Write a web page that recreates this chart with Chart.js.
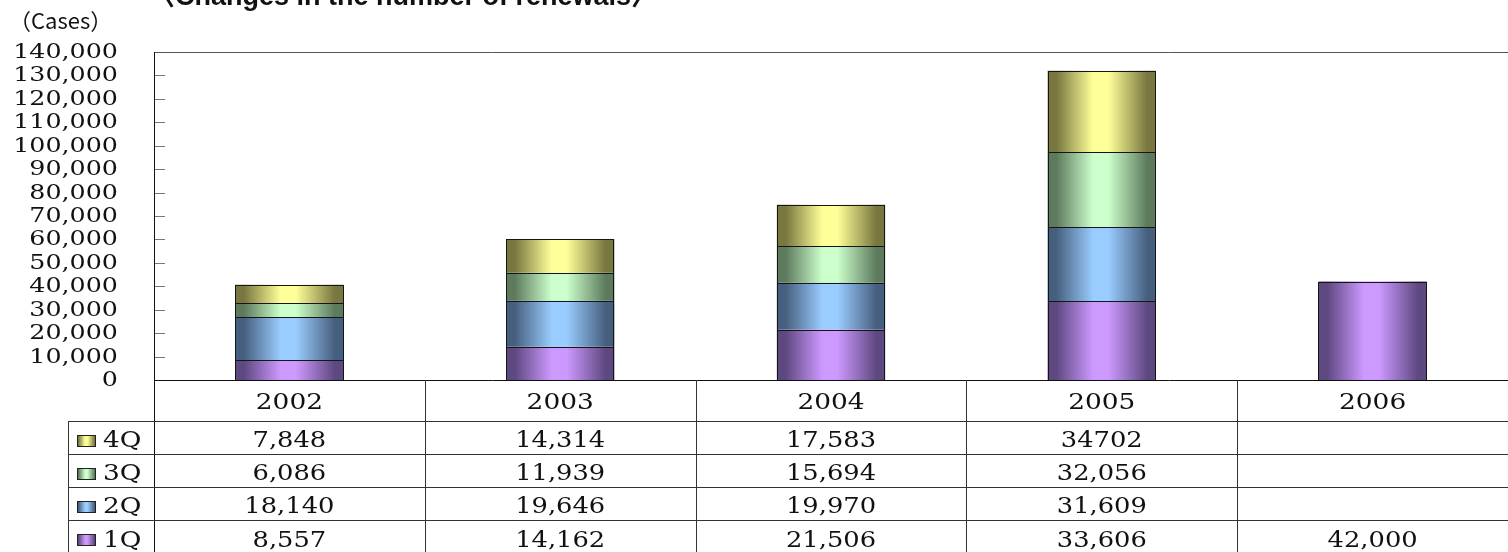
<!DOCTYPE html>
<html>
<head>
<meta charset="utf-8">
<script src="https://cdn.jsdelivr.net/npm/chart.js@4"></script>
<style>
  html, body { margin: 0; padding: 0; background: #fff; }
  #wrap { width: 1508px; height: 552px; position: relative; }
</style>
</head>
<body>
<div id="wrap"><canvas id="chart"></canvas></div>
<script>
const categories = ['2002', '2003', '2004', '2005', '2006'];
const q1 = [8557, 14162, 21506, 33606, 42000];
const q2 = [18140, 19646, 19970, 31609, null];
const q3 = [6086, 11939, 15694, 32056, null];
const q4 = [7848, 14314, 17583, 34702, null];
const seriesNames = ['1Q', '2Q', '3Q', '4Q'];
const yMax = 140000;
const yStep = 10000;

// the source table prints this one cell without a thousands separator
const plainCells = ['0-3'];

const shades = [
  { light: '#cc99ff', dark: '#5e4880' },
  { light: '#99ccff', dark: '#475f7e' },
  { light: '#ccffcc', dark: '#5d7a5d' },
  { light: '#ffff99', dark: '#77773f' }
];

const BAR_PCT = 0.4;
const SERIF = '"DejaVu Serif", "Liberation Serif", serif';

function cylinder(ctx, x0, x1, shade) {
  const g = ctx.createLinearGradient(x0, 0, x1, 0);
  g.addColorStop(0, shade.dark);
  g.addColorStop(0.08, shade.dark);
  g.addColorStop(0.42, shade.light);
  g.addColorStop(0.56, shade.light);
  g.addColorStop(0.92, shade.dark);
  g.addColorStop(1, shade.dark);
  return g;
}

function barFill(si) {
  return context => {
    const chart = context.chart;
    const xs = chart.scales.x;
    if (!xs || context.dataIndex === undefined) return shades[si].light;
    const cx = xs.getPixelForValue(context.dataIndex);
    const half = xs.width / categories.length * BAR_PCT / 2;
    if (!isFinite(cx) || !isFinite(half) || half <= 0) return shades[si].light;
    return cylinder(chart.ctx, cx - half, cx + half, shades[si]);
  };
}

const fmt = v => v == null ? '' : v.toLocaleString('en-US');

// crisp outlines around each bar segment, snapped to whole pixels
const outlinePlugin = {
  id: 'outlinePlugin',
  afterDatasetsDraw(chart) {
    const ctx = chart.ctx;
    ctx.save();
    ctx.strokeStyle = '#151515';
    ctx.lineWidth = 1;
    chart.data.datasets.forEach((ds, di) => {
      chart.getDatasetMeta(di).data.forEach(el => {
        const { x, y, base, width } = el.getProps(['x', 'y', 'base', 'width'], true);
        if (!isFinite(y) || !isFinite(base)) return;
        const l = Math.round(x - width / 2), r = Math.round(x + width / 2);
        const t = Math.round(Math.min(y, base)), b = Math.round(Math.max(y, base));
        if (b - t < 1) return;
        ctx.strokeRect(l + 0.5, t + 0.5, r - l - 1, b - t);
      });
    });
    ctx.restore();
  }
};

const tablePlugin = {
  id: 'tablePlugin',
  afterDraw(chart) {
    const ctx = chart.ctx;
    const area = chart.chartArea;
    const xs = chart.scales.x;
    const ys = chart.scales.y;
    const colW = xs.width / categories.length;
    const right = chart.width;
    const headTop = area.bottom;
    const headBottom = headTop + 41;
    const rowH = 33.1;
    const labelLeft = 68;

    // the source text is wide, so glyphs get stretched sideways
    const stretchText = (txt, x, y, align, k) => {
      ctx.save();
      ctx.translate(x, y);
      ctx.scale(k, 1);
      ctx.textAlign = align;
      ctx.fillText(txt, 0, 0);
      ctx.restore();
    };

    ctx.save();

    // inner tick marks + y labels
    ctx.strokeStyle = '#777';
    ctx.lineWidth = 1;
    ctx.fillStyle = '#111';
    ctx.font = '19.5px ' + SERIF;
    ctx.textBaseline = 'middle';
    ys.ticks.forEach(t => {
      const yp = ys.getPixelForValue(t.value);
      stretchText(t.value.toLocaleString('en-US'), 118, yp + 1, 'right', 1.3);
      if (t.value === 0 || t.value === yMax) return;
      const y = Math.round(yp) + 0.5;
      ctx.beginPath();
      ctx.moveTo(area.left, y);
      ctx.lineTo(area.left + 11, y);
      ctx.stroke();
    });

    // frame
    ctx.strokeStyle = '#555';
    ctx.beginPath();
    ctx.moveTo(area.left, area.top + 0.5);
    ctx.lineTo(right, area.top + 0.5);
    ctx.stroke();

    ctx.strokeStyle = '#111';
    ctx.beginPath();
    ctx.moveTo(area.left + 0.5, area.top);
    ctx.lineTo(area.left + 0.5, chart.height);
    ctx.moveTo(area.left, area.bottom + 0.5);
    ctx.lineTo(right, area.bottom + 0.5);
    ctx.stroke();

    // column separators
    ctx.strokeStyle = '#333';
    for (let i = 1; i < categories.length; i++) {
      const x = Math.round(area.left + colW * i) + 0.5;
      ctx.beginPath();
      ctx.moveTo(x, headTop);
      ctx.lineTo(x, chart.height);
      ctx.stroke();
    }

    // row lines
    const rowTops = [];
    for (let r = 0; r < 4; r++) rowTops.push(headBottom + rowH * r);
    ctx.beginPath();
    rowTops.forEach(y => {
      const yy = Math.round(y) + 0.5;
      ctx.moveTo(labelLeft, yy);
      ctx.lineTo(right, yy);
    });
    ctx.moveTo(labelLeft + 0.5, headBottom);
    ctx.lineTo(labelLeft + 0.5, chart.height);
    ctx.stroke();

    ctx.fillStyle = '#111';
    ctx.font = '22px ' + SERIF;
    ctx.textBaseline = 'middle';

    categories.forEach((c, i) => {
      stretchText(c, xs.getPixelForValue(i), (headTop + headBottom) / 2 + 3, 'center', 1.2);
    });

    // rows top to bottom: 4Q, 3Q, 2Q, 1Q
    const rows = [q4, q3, q2, q1];
    rows.forEach((vals, r) => {
      const si = 3 - r;
      const top = rowTops[r];
      const cy = top + rowH / 2 + 4;

      // legend swatch
      const sx = 77, sy = Math.round(top + rowH / 2 - 3);
      ctx.fillStyle = cylinder(ctx, sx, sx + 19, shades[si]);
      ctx.fillRect(sx, sy, 19, 12);
      ctx.strokeStyle = '#222';
      ctx.strokeRect(sx + 0.5, sy + 0.5, 18, 11);

      ctx.fillStyle = '#111';
      stretchText(seriesNames[si], 103, cy, 'left', 1.2);

      vals.forEach((v, i) => {
        const txt = plainCells.includes(r + '-' + i) ? String(v) : fmt(v);
        stretchText(txt, xs.getPixelForValue(i), cy, 'center', 1.17);
      });
    });

    // headings
    ctx.textBaseline = 'alphabetic';
    ctx.textAlign = 'left';
    ctx.font = 'bold 27px "Liberation Sans", "Noto Sans CJK JP", sans-serif';
    ctx.fillText('〈Changes in the number of renewals〉', 148, 5);
    ctx.font = '22px "Noto Sans CJK JP", "Liberation Sans", sans-serif';
    ctx.fillText('（Cases）', 9, 29);

    ctx.restore();
  }
};

new Chart(document.getElementById('chart'), {
  type: 'bar',
  data: {
    labels: categories,
    datasets: [q1, q2, q3, q4].map((data, si) => ({
      label: seriesNames[si],
      data,
      backgroundColor: barFill(si),
      borderWidth: 0,
      inflateAmount: 0,
      categoryPercentage: 1,
      barPercentage: BAR_PCT
    }))
  },
  options: {
    responsive: true,
    maintainAspectRatio: false,
    animation: false,
    layout: {
      padding: { top: 52, right: 0, bottom: 172, left: 0 }
    },
    plugins: {
      legend: { display: false },
      tooltip: { enabled: false }
    },
    scales: {
      x: {
        stacked: true,
        display: false,
        offset: true
      },
      y: {
        stacked: true,
        min: 0,
        max: yMax,
        border: { display: false },
        grid: { display: false, drawTicks: false },
        afterFit: scale => { scale.width = 154; },
        ticks: {
          stepSize: yStep,
          autoSkip: false,
          display: false
        }
      }
    }
  },
  plugins: [outlinePlugin, tablePlugin]
});
</script>
</body>
</html>
